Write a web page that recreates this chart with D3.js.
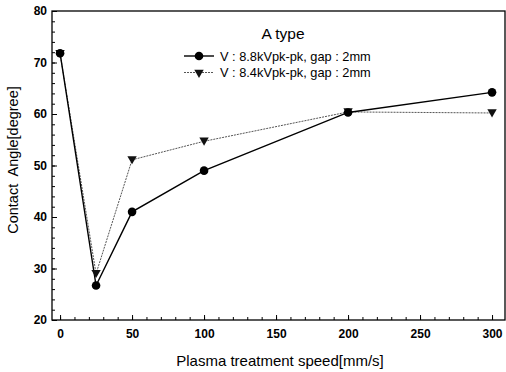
<!DOCTYPE html>
<html><head><meta charset="utf-8">
<script src="https://cdn.jsdelivr.net/npm/d3@7"></script>
<style>body{margin:0;background:#fff}svg{display:block}text{font-family:"Liberation Sans",Arial,sans-serif;fill:#000}</style>
</head><body>
<script>
const speeds = [0, 25, 50, 100, 200, 300];
const seriesA = [71.8, 26.7, 41.0, 49.0, 60.3, 64.2];
const seriesB = [71.7, 29.0, 51.1, 54.7, 60.4, 60.2];
const seriesNames = ["V : 8.8kVpk-pk, gap : 2mm", "V : 8.4kVpk-pk, gap : 2mm"];
const xTicks = [0, 50, 100, 150, 200, 250, 300];
const yTicks = [20, 30, 40, 50, 60, 70, 80];
const title = "A type";
const xLabel = "Plasma treatment speed[mm/s]";
const yLabel = "Contact  Angle[degree]";

const W = 506, H = 372;
const svg = d3.select("body").append("svg").attr("width", W).attr("height", H);
const L = 52, R = 505, T = 11, B = 320;
const x = d3.scaleLinear().domain([-5.6, 309]).range([L, R]);
const y = d3.scaleLinear().domain([20, 80]).range([B, T]);

// frame
svg.append("rect").attr("x", L).attr("y", T).attr("width", R - L).attr("height", B - T)
  .attr("fill", "none").attr("stroke", "#000").attr("stroke-width", 1.3);

// x axis (inward ticks)
const xMinor = d3.range(0, 301, 10);
const gx = svg.append("g").attr("transform", `translate(0,${B})`);
gx.call(d3.axisBottom(x).tickValues(xMinor).tickSize(-3).tickFormat(""));
gx.select(".domain").remove();
const gx2 = svg.append("g").attr("transform", `translate(0,${B})`);
gx2.call(d3.axisBottom(x).tickValues(xTicks).tickSize(-5).tickPadding(9).tickFormat(d3.format("d")));
gx2.select(".domain").remove();
gx2.selectAll("text").attr("font-size", 12).attr("font-weight", "bold").style("font-family", "Liberation Sans, Arial");

// y axis
const yMinor = d3.range(20, 81, 2);
const gy = svg.append("g").attr("transform", `translate(${L},0)`);
gy.call(d3.axisLeft(y).tickValues(yMinor).tickSize(-3).tickFormat(""));
gy.select(".domain").remove();
const gy2 = svg.append("g").attr("transform", `translate(${L},0)`);
gy2.call(d3.axisLeft(y).tickValues(yTicks).tickSize(-5).tickPadding(5).tickFormat(d3.format("d")));
gy2.select(".domain").remove();
gy2.selectAll("text").attr("font-size", 12).attr("font-weight", "bold").style("font-family", "Liberation Sans, Arial");
svg.selectAll(".tick line").attr("stroke", "#000");

// labels
svg.append("text").attr("x", 280).attr("y", 366).attr("text-anchor", "middle")
  .attr("font-size", 15).text(xLabel);
svg.append("text").attr("transform", "translate(18,160) rotate(-90)").attr("text-anchor", "middle")
  .attr("font-size", 14.5).style("white-space", "pre").text(yLabel);
svg.append("text").attr("x", 283).attr("y", 39).attr("text-anchor", "middle")
  .attr("font-size", 15.5).text(title);

const line = d3.line().x((d, i) => x(speeds[i])).y(d => y(d));
svg.append("path").datum(seriesB).attr("d", line).attr("fill", "none")
  .attr("stroke", "#555").attr("stroke-width", 1).attr("stroke-dasharray", "2,1");
svg.append("path").datum(seriesA).attr("d", line).attr("fill", "none")
  .attr("stroke", "#000").attr("stroke-width", 1.4);

const tri = d3.symbol().type(d3.symbolTriangle).size(38);
svg.selectAll(".tri").data(seriesB).enter().append("path")
  .attr("d", tri).attr("transform", (d, i) => `translate(${x(speeds[i])},${y(d) - 1}) rotate(180)`)
  .attr("fill", "#111");
svg.selectAll(".cir").data(seriesA).enter().append("circle")
  .attr("cx", (d, i) => x(speeds[i])).attr("cy", d => y(d)).attr("r", 4.3).attr("fill", "#000");

// legend
const lg = [[56, seriesNames[0], true], [72.5, seriesNames[1], false]];
lg.forEach(([ly, name, solid]) => {
  svg.append("line").attr("x1", 184).attr("x2", 214).attr("y1", ly).attr("y2", ly)
    .attr("stroke", solid ? "#000" : "#555").attr("stroke-width", solid ? 1.4 : 1)
    .attr("stroke-dasharray", solid ? null : "2,1");
  if (solid) svg.append("circle").attr("cx", 199).attr("cy", ly).attr("r", 4.3).attr("fill", "#000");
  else svg.append("path").attr("d", tri).attr("transform", `translate(199,${ly}) rotate(180)`).attr("fill", "#111");
  svg.append("text").attr("x", 220).attr("y", ly + 4.5).attr("font-size", 12.8).text(name);
});
</script>
</body></html>
